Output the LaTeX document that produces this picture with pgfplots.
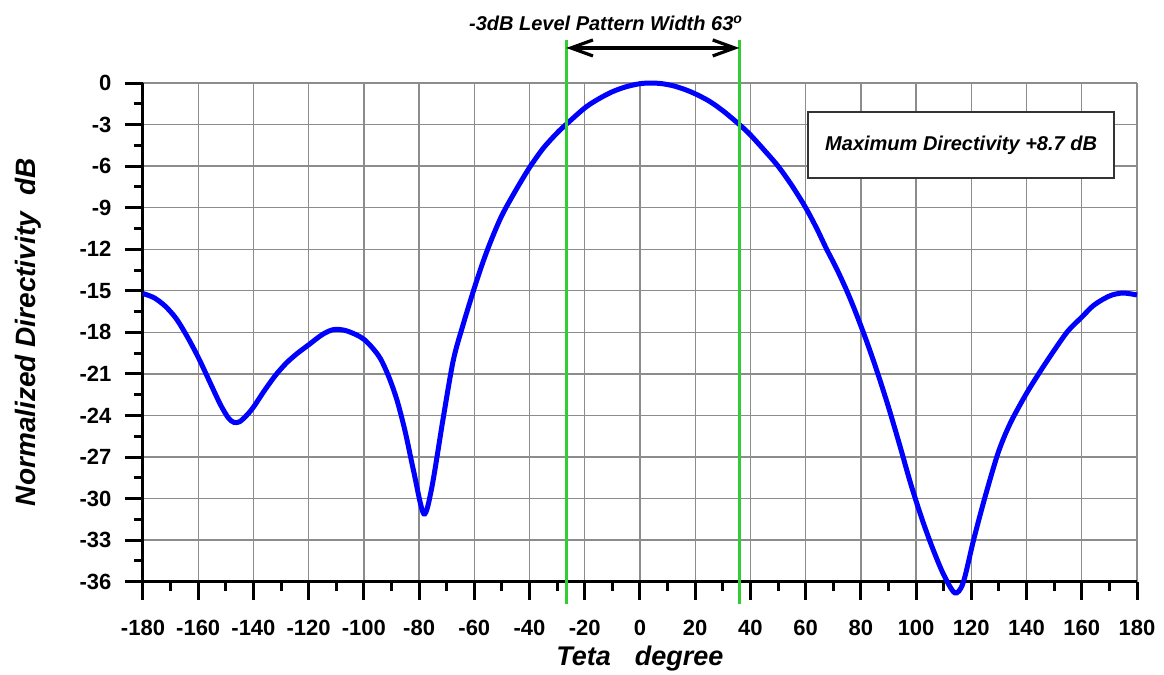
\documentclass[border=0pt]{standalone}
\usepackage{fontspec}
\setmainfont{Liberation Sans}
\usepackage{pgfplots}
\pgfplotsset{compat=1.18}
\usetikzlibrary{arrows.meta}
\definecolor{limeline}{RGB}{50,205,50}
\definecolor{gridgray}{RGB}{140,140,140}

\begin{document}
\begin{tikzpicture}
\path[use as bounding box] (-71.5pt,-46.65pt) rectangle (510.5pt,290.85pt);
\begin{axis}[
  scale only axis, width=497pt, height=249.35pt,
  xmin=-180, xmax=180, ymin=-36, ymax=0,
  xtick={-180,-160,...,180}, ytick={-36,-33,...,0},
  minor x tick num=1, minor y tick num=1,
  axis x line*=bottom, axis y line*=left,
  axis line style={line width=1.5pt, black},
  tick align=outside,
  major tick length=9pt, minor tick length=4.5pt,
  tick style={black, line width=1.5pt},
  grid=major,
  major grid style={gridgray, line width=0.7pt},
  ticklabel style={font=\bfseries\fontsize{11}{13}\selectfont},
  /pgf/number format/assume math mode=true,
  xticklabel style={anchor=north, yshift=-6.5pt},
  yticklabel style={anchor=east, xshift=-3.3pt},
  xlabel={Teta\hspace{12pt}degree},
  ylabel={Normalized Directivity\hspace{8pt}dB},
  xlabel style={at={(axis description cs:0.5,-0.155)}, anchor=center,
    font=\bfseries\itshape\fontsize{13.5}{16}\selectfont},
  ylabel style={at={(axis description cs:-0.1157,0.5)}, anchor=center, rotate=0,
    font=\bfseries\itshape\fontsize{14}{16}\selectfont},
  clip=false,
]
% normalized pattern, dB
\addplot[blue, line width=2.5pt, smooth, tension=0.5] coordinates {
(-180,-15.2) (-176,-15.5) (-172,-16.1) (-168,-17.0) (-164,-18.3)
(-160,-19.8) (-156,-21.5) (-152,-23.2) (-149,-24.2) (-147,-24.5)
(-145,-24.45) (-142.5,-24.0) (-140,-23.4) (-136,-22.2) (-132,-21.1)
(-128,-20.2) (-124,-19.5) (-120,-18.9) (-115,-18.15) (-111,-17.8)
(-107,-17.85) (-103,-18.15) (-100,-18.5) (-97,-19.1) (-94,-19.9)
(-91,-21.2) (-88,-22.9) (-85,-25.2) (-82,-28.0) (-78.3,-31.1)
(-75.4,-29.2) (-71.2,-24.1) (-67.6,-20.0) (-64,-17.4) (-60,-14.8)
(-57,-13.0) (-54,-11.4) (-50,-9.55) (-45,-7.75) (-40,-6.1) (-35,-4.7)
(-30,-3.6) (-26.8,-3.0) (-20,-1.8) (-15,-1.15) (-10,-0.63) (-5,-0.27)
(0,-0.05) (4,0) (8,-0.05) (12,-0.2) (16,-0.45) (20,-0.78) (25,-1.3)
(30,-2.0) (36,-3.0) (40,-3.75) (45,-4.85) (50,-6.0) (55,-7.4) (60,-9.0)
(64,-10.5) (67.6,-12.0) (71.2,-13.4) (74.9,-15.0) (78,-16.5) (82,-18.6)
(86,-20.9) (90,-23.4) (94,-26.1) (98,-28.9) (102,-31.4) (106,-33.6)
(110,-35.5) (114,-36.8) (117,-36.1) (120.8,-33) (124.8,-30) (129.2,-27)
(132,-25.5) (135,-24.2) (140,-22.4) (145,-20.8) (150,-19.3) (155,-17.9)
(160,-16.9) (164,-16.1) (167.8,-15.6) (171,-15.3) (175.1,-15.16) (180,-15.3)
};
% -3 dB markers
\addplot[limeline, line width=1.5pt] coordinates {(-26.7,3.1) (-26.7,-37.6)};
\addplot[limeline, line width=1.5pt] coordinates {(36,3.1) (36,-37.6)};
\draw[line width=1.6pt, {Straight Barb[length=11pt,width=8pt]}-{Straight Barb[length=11pt,width=8pt]}]
  (axis cs:-26.7,2.53) -- (axis cs:36,2.53);
\node[font=\bfseries\itshape\fontsize{10}{12}\selectfont] at (axis cs:-12.3,4.3)
  {-3dB Level Pattern Width 63\textsuperscript{o}};
\node[draw=black!80, line width=0.7pt, fill=white, minimum width=153pt, minimum height=33pt,
  font=\bfseries\itshape\fontsize{10}{12}\selectfont] at (axis cs:116.3,-4.48)
  {Maximum Directivity +8.7 dB};
\end{axis}
\end{tikzpicture}
\end{document}
